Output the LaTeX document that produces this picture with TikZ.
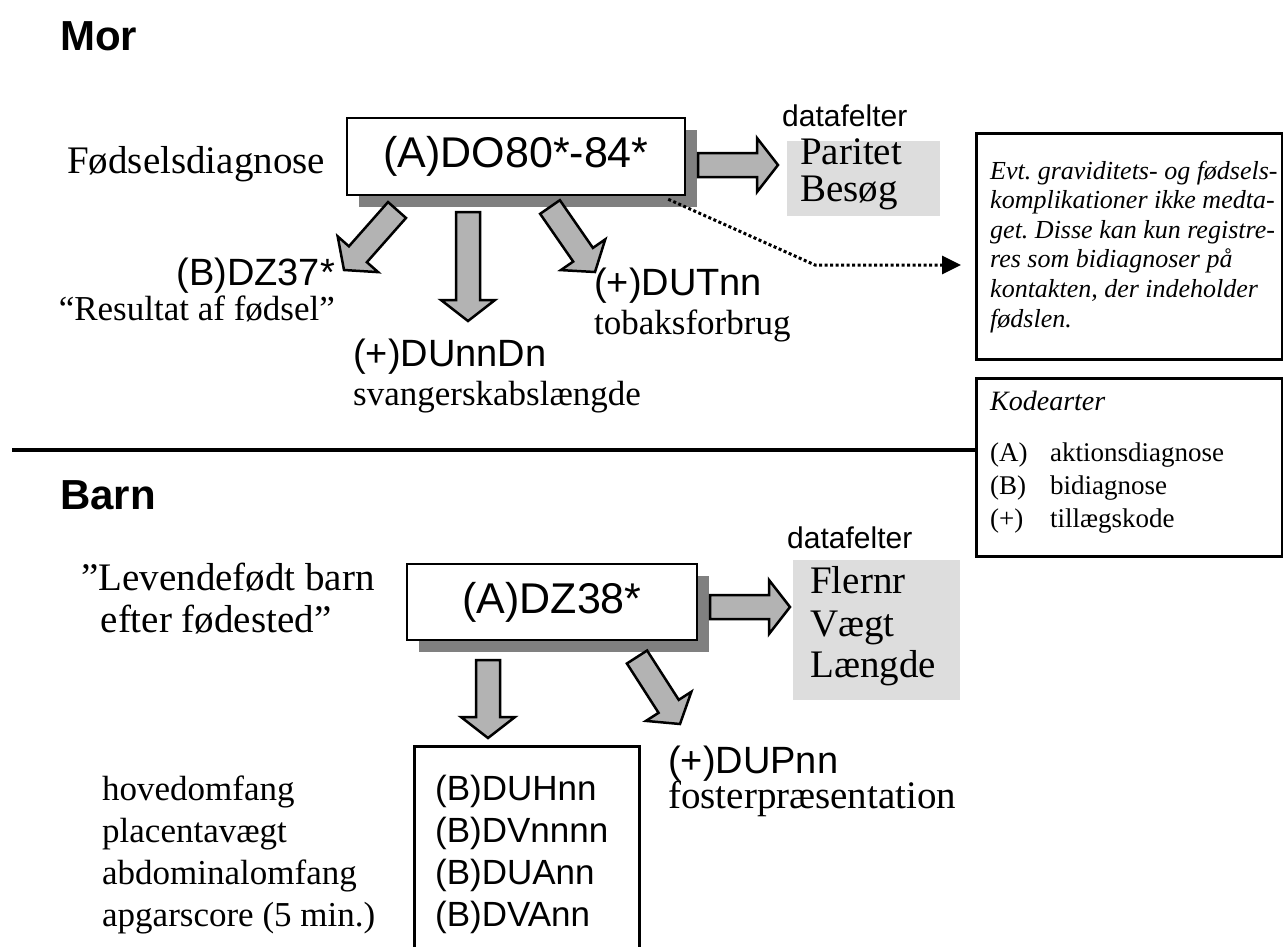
\documentclass[tikz,border=0pt]{standalone}
\usepackage{fontspec}
\setmainfont{Liberation Serif}
\setsansfont{Liberation Sans}
\usetikzlibrary{calc,shadows,arrows.meta}
\definecolor{shadowgray}{HTML}{808080}
\definecolor{arrowgray}{HTML}{B3B3B3}
\definecolor{fieldgray}{HTML}{DDDDDD}
\frenchspacing
\def\fatarrow(#1)(#2){%
  \coordinate (fa-h) at ($(#2)!21pt!(#1)$);
  \draw[fatarrow] ($(#1)!12pt!90:(#2)$) -- ($(fa-h)!12pt!90:(#2)$) -- ($(fa-h)!27pt!90:(#2)$)
    -- (#2) -- ($(fa-h)!27pt!-90:(#2)$) -- ($(fa-h)!12pt!-90:(#2)$) -- ($(#1)!12pt!-90:(#2)$) -- cycle;}

\begin{document}
\begin{tikzpicture}[x=1pt, y=-1pt,
    head/.style={anchor=base west, inner sep=0, font=\sffamily\bfseries\fontsize{42}{50}\selectfont},
    codebox/.style={draw, line width=2.5pt, fill=white, inner sep=0, font=\sffamily\fontsize{43}{50}\selectfont,
      drop shadow={shadow xshift=12pt, shadow yshift=-12pt, fill=shadowgray, opacity=1}},
    fieldbox/.style={fill=fieldgray, inner sep=0, anchor=north west},
    infobox/.style={draw, line width=3pt, inner sep=0, anchor=north west},
    fatarrow/.style={draw, line width=2.5pt, fill=arrowgray, line join=miter},
    sanslbl/.style={anchor=base west, inner sep=0, font=\sffamily\fontsize{38}{44}\selectfont},
    seriflbl/.style={anchor=base west, inner sep=0, font=\fontsize{39}{44}\selectfont},
    smalllbl/.style={anchor=base west, inner sep=0, font=\fontsize{35}{40}\selectfont},
    datalbl/.style={anchor=base west, inner sep=0, font=\sffamily\fontsize{30}{36}\selectfont},
    notetext/.style={anchor=base west, inner sep=0, font=\itshape\fontsize{26}{30}\selectfont},
    kodetext/.style={anchor=base west, inner sep=0, font=\fontsize{27}{32}\selectfont}]
    %%%%% START %%%%%
    \useasboundingbox (0,0) rectangle (1283,946);

    %%% Mor
    \node[head] (mor) at (60,50) {Mor};
    \node[seriflbl] (foedsel) at (67,173) {Fødselsdiagnose};
    \node[codebox, minimum width=338pt, minimum height=77pt] (morbox) at (516,156.5) {(A)DO80*-84*\hspace{9pt}};

    \node[datalbl] (mordata) at (782,126) {datafelter};
    \node[fieldbox, minimum width=153pt, minimum height=75pt] (morfelt) at (787,141) {};
    \node[seriflbl] (paritet) at (800,164) {Paritet};
    \node[seriflbl] (besoeg) at (800,201) {Besøg};

    \coordinate (morR-s) at (698,165);
    \coordinate (morR-t) at (778,165);
    \coordinate (morL-s) at (397,210);
    \coordinate (morL-t) at (344,270);
    \coordinate (morM-s) at (468,212);
    \coordinate (morM-t) at (468,321);
    \coordinate (morD-s) at (550,207);
    \coordinate (morD-t) at (595,272);
    \fatarrow(morR-s)(morR-t)
    \fatarrow(morL-s)(morL-t)
    \fatarrow(morM-s)(morM-t)
    \fatarrow(morD-s)(morD-t)

    \node[sanslbl, anchor=base east] (dz37) at (335,285) {(B)DZ37*};
    \node[smalllbl, anchor=base east] (resultat) at (335,320) {“Resultat af fødsel”};
    \node[sanslbl] (dunndn) at (353,366) {(+)DUnnDn};
    \node[smalllbl] (svanger) at (353,405) {svangerskabslængde};
    \node[sanslbl] (dutnn) at (594,295) {(+)DUTnn};
    \node[smalllbl] (tobak) at (594,334) {tobaksforbrug};

    % note boxes
    \node[infobox, minimum width=306pt, minimum height=226pt] (note) at (975,132) {};
    \foreach \txt [count=\i from 0] in {Evt. graviditets- og fødsels-, komplikationer ikke medta-,
        get. Disse kan kun registre-, res som bidiagnoser på, {kontakten, der indeholder}, fødslen.}
      \node[notetext] (note-\i) at (990,179+29.6*\i) {\txt};

    \coordinate (dot-s) at ($(morbox.south east)+(-18,3)$);
    \coordinate (dot-b) at (815,265);
    \coordinate (dot-t) at ($(note.west |- dot-b)+(-14,0)$);
    \draw[line width=3pt, dash pattern=on 3pt off 2.5pt, -{Triangle[length=19pt, width=18pt]}]
      (dot-s) -- (dot-b) -- (dot-t);

    \node[infobox, minimum width=306pt, minimum height=178pt] (kode) at (975,377) {};
    \node[notetext, font=\itshape\fontsize{28}{32}\selectfont] (kodearter) at (990,410) {Kodearter};
    \foreach \k/\d [count=\i from 0] in {(A)/aktionsdiagnose, (B)/bidiagnose, (+)/tillægskode} {
      \node[kodetext] (kode-a\i) at (990,461+33*\i) {\k};
      \node[kodetext] (kode-b\i) at (1050,461+33*\i) {\d};
    }

    % skillelinje
    \coordinate (sep) at (12,450);
    \draw[line width=3.5pt] (sep) -- (sep -| kode.west);

    %%% Barn
    \node[head] (barn) at (60,509) {Barn};
    \node[seriflbl, anchor=base] (levende) at (228,590) {”Levendefødt barn};
    \node[seriflbl, anchor=base] (efter) at (216,632) {efter fødested”};
    \node[codebox, minimum width=290pt, minimum height=76pt] (barnbox) at (552,602) {(A)DZ38*\hspace{16pt}};

    \node[datalbl] (barndata) at (787,548) {datafelter};
    \node[fieldbox, minimum width=167pt, minimum height=140pt] (barnfelt) at (793,560) {};
    \node[seriflbl] (flernr) at (810,593) {Flernr};
    \node[seriflbl] (vaegt) at (810,636) {Vægt};
    \node[seriflbl] (laengde) at (810,677) {Længde};

    \coordinate (barnR-s) at (710,607);
    \coordinate (barnR-t) at (790,607);
    \coordinate (barnM-s) at (488,660);
    \coordinate (barnM-t) at (488,738);
    \coordinate (barnD-s) at (637,657);
    \coordinate (barnD-t) at (680,724);
    \fatarrow(barnR-s)(barnR-t)
    \fatarrow(barnM-s)(barnM-t)
    \fatarrow(barnD-s)(barnD-t)

    \node[sanslbl] (dupnn) at (668,773) {(+)DUPnn};
    \node[seriflbl] (foster) at (668,808) {fosterpræsentation};

    \node[infobox, line width=2.5pt, minimum width=225pt, minimum height=230pt] (codelist) at (413,745) {};
    \foreach \lab/\code [count=\i from 0] in {hovedomfang/(B)DUHnn, placentavægt/(B)DVnnnn,
        abdominalomfang/(B)DUAnn, {apgarscore (5 min.)}/(B)DVAnn} {
      \node[smalllbl, font=\fontsize{35}{40}\selectfont] (lab-\i) at (102,800+42*\i) {\lab};
      \node[sanslbl, font=\sffamily\fontsize{35}{40}\selectfont] (code-\i) at (435,800+42*\i) {\code};
    }
    %%%%% END %%%%%
\end{tikzpicture}
\end{document}
